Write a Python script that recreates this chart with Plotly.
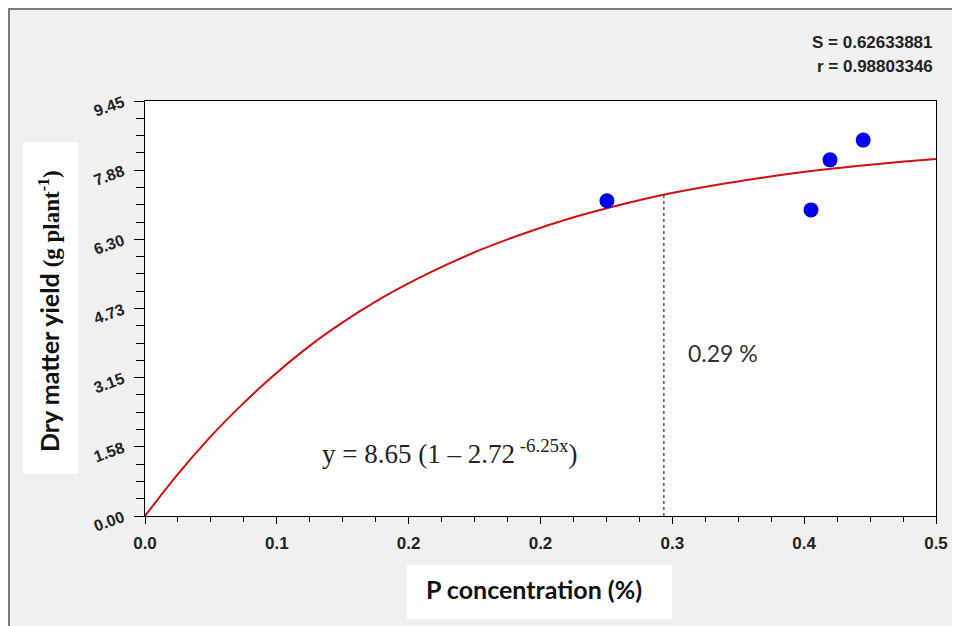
import plotly.graph_objects as go
import numpy as np

# ---- data ----
obs_x = [0.292, 0.421, 0.433, 0.454]
obs_y = [7.18, 6.97, 8.11, 8.56]

fit_x = [0.0, 0.02, 0.04, 0.06, 0.08, 0.10, 0.12, 0.15, 0.18, 0.21,
         0.24, 0.27, 0.30, 0.33, 0.36, 0.39, 0.42, 0.45, 0.48, 0.50]
fit_y = [0.0, 0.92, 1.75, 2.49, 3.16, 3.76, 4.29, 4.97, 5.54, 6.03,
         6.44, 6.79, 7.08, 7.33, 7.53, 7.70, 7.85, 7.97, 8.07, 8.13]

optimum_x = 0.328
optimum_y = 7.32

x_ticktext = ["0.0", "0.1", "0.2", "0.2", "0.3", "0.4", "0.5"]
y_ticktext = ["0.00", "1.58", "3.15", "4.73", "6.30", "7.88", "9.45"]
x_max = 0.5
y_max = 9.45

stats_lines = ["S = 0.62633881", "r = 0.98803346"]
equation = "y = 8.65 (1 \u2013 2.72<sup> -6.25x</sup>)"
optimum_label = "0.29 %"

# ---- layout geometry: figure sits at window offset (8, 8) ----
OFF = 8
W, H = 960 - OFF, 626 - OFF
L, R, T, B = 145 - OFF, 24, 101 - OFF, 110
pw, ph = W - L - R, H - T - B


def px(xw):
    """window x pixel -> paper fraction"""
    return (xw - OFF - L) / pw


def py(yw):
    """window y pixel -> paper fraction"""
    return (H - B - (yw - OFF)) / ph


fig = go.Figure()

fig.add_trace(go.Scatter(
    x=[optimum_x, optimum_x], y=[0, optimum_y], mode="lines",
    line=dict(color="black", width=1, dash="dot"), hoverinfo="skip"))

fig.add_trace(go.Scatter(
    x=fit_x, y=fit_y, mode="lines",
    line=dict(color="#d01010", width=2, shape="spline", smoothing=1.0)))

fig.add_trace(go.Scatter(
    x=obs_x, y=obs_y, mode="markers",
    marker=dict(color="#0000f0", size=15, line=dict(width=0))))

x_tickvals = list(np.linspace(0, x_max, len(x_ticktext)))
y_tickvals = list(np.linspace(0, y_max, len(y_ticktext)))
x_minor = list(np.linspace(0, x_max, 4 * (len(x_ticktext) - 1) + 1))
y_minor = list(np.linspace(0, y_max, 4 * (len(y_ticktext) - 1) + 1))

fig.update_xaxes(
    range=[0, x_max], tickmode="array", tickvals=x_tickvals, ticktext=x_ticktext,
    ticks="outside", ticklen=7, tickcolor="black", tickwidth=1,
    minor=dict(tickmode="array", tickvals=x_minor, ticks="outside", ticklen=5,
               tickcolor="black", tickwidth=1),
    showline=True, linecolor="black", linewidth=1, mirror=True,
    showgrid=False, zeroline=False,
    tickfont=dict(family="Liberation Sans, Arial", size=17, color="#222222", weight="bold"),
    ticklabelstandoff=5,
)
fig.update_yaxes(
    range=[0, y_max], tickmode="array", tickvals=y_tickvals, ticktext=y_ticktext,
    ticks="outside", ticklen=10, tickcolor="black", tickwidth=1,
    minor=dict(tickmode="array", tickvals=y_minor, ticks="outside", ticklen=8,
               tickcolor="black", tickwidth=1),
    showline=True, linecolor="black", linewidth=1, mirror=True,
    showgrid=False, zeroline=False, tickangle=-20,
    tickfont=dict(family="Liberation Sans, Arial", size=16, color="#222222", weight="bold"),
    ticklabelstandoff=8,
)

shapes = [
    # outer frame lines (top and left)
    dict(type="line", xref="paper", yref="paper", x0=px(8), x1=px(960), y0=py(9), y1=py(9),
         line=dict(color="#7a7a7a", width=2)),
    dict(type="line", xref="paper", yref="paper", x0=px(9), x1=px(9), y0=py(8), y1=py(626),
         line=dict(color="#7a7a7a", width=2)),
    # white title boxes
    dict(type="rect", xref="paper", yref="paper", x0=px(23), x1=px(78), y0=py(474), y1=py(142),
         fillcolor="white", line=dict(width=0), layer="below"),
    dict(type="rect", xref="paper", yref="paper", x0=px(407), x1=px(672), y0=py(619), y1=py(565),
         fillcolor="white", line=dict(width=0), layer="below"),
]

annotations = [
    dict(xref="paper", yref="paper", x=px(935), y=py(42), xanchor="right", yanchor="middle",
         text="<b>" + stats_lines[0] + "</b>", showarrow=False,
         font=dict(family="Liberation Sans, Arial", size=17, color="#222222")),
    dict(xref="paper", yref="paper", x=px(935), y=py(67), xanchor="right", yanchor="middle",
         text="<b>" + stats_lines[1] + "</b>", showarrow=False,
         font=dict(family="Liberation Sans, Arial", size=17, color="#222222")),
    dict(xref="paper", yref="paper", x=px(320), y=py(452), xanchor="left", yanchor="middle",
         text=equation, showarrow=False,
         font=dict(family="Liberation Serif, Times New Roman", size=27, color="#222222")),
    dict(xref="paper", yref="paper", x=px(686), y=py(353), xanchor="left", yanchor="middle",
         text=optimum_label, showarrow=False,
         font=dict(family="Lato, Calibri", size=23, color="#333333")),
    dict(xref="paper", yref="paper", x=px(534), y=py(589), xanchor="center", yanchor="middle",
         text="<b>P concentration (%)</b>", showarrow=False,
         font=dict(family="Lato, Calibri", size=25, color="#111111")),
    dict(xref="paper", yref="paper", x=px(49), y=py(311), xanchor="center", yanchor="middle",
         textangle=-90, showarrow=False,
         text="<b>Dry matter yield </b><span style=\"font-family:'Liberation Serif';font-size:23px\"><b>(g plant<sup>-1</sup>)</b></span>",
         font=dict(family="Lato, Calibri", size=25, color="#111111")),
]

fig.update_layout(
    width=W, height=H,
    margin=dict(l=L, r=R, t=T, b=B, autoexpand=False),
    paper_bgcolor="#f0f0f0", plot_bgcolor="white",
    showlegend=False,
    shapes=shapes, annotations=annotations,
)

fig.write_html("out.html")
